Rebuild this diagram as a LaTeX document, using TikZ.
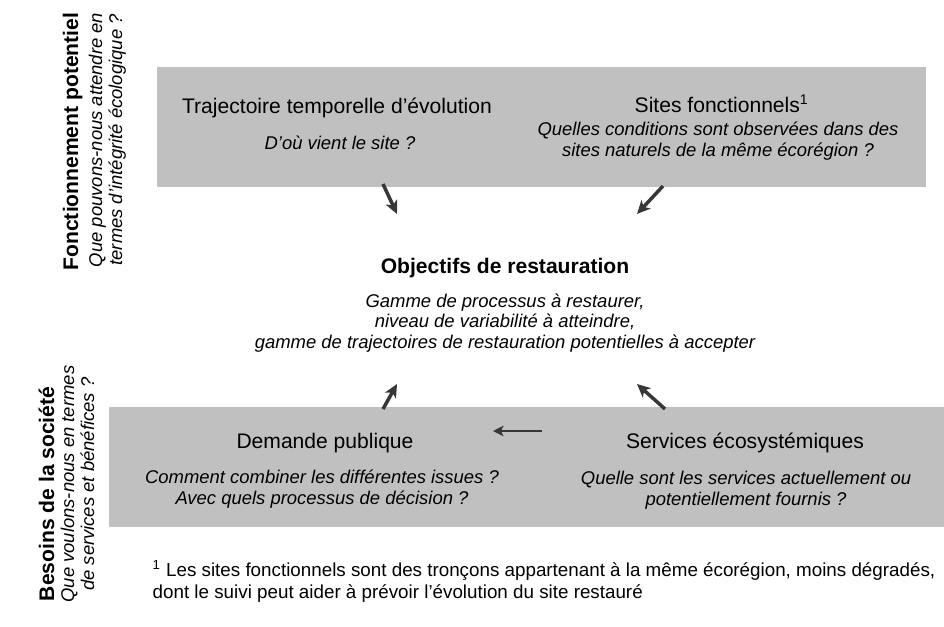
\documentclass[tikz,border=0pt]{standalone}
\usepackage{fontspec}
\setmainfont{Liberation Sans}
\usetikzlibrary{positioning}
\usetikzlibrary{arrows.meta}

\definecolor{boxgray}{RGB}{192,192,192}
\definecolor{arrowgray}{RGB}{55,55,55}

\begin{document}
\begin{tikzpicture}[x=0.02cm, y=-0.02cm, thick,
	box/.style={fill=boxgray, draw=none},
	title/.style={font=\fontsize{12}{14}\selectfont, inner sep=0pt, anchor=base},
	question/.style={font=\fontsize{10.5}{11.4}\selectfont\itshape, align=center, inner sep=0pt, anchor=base},
	side title/.style={font=\fontsize{12}{14}\selectfont\bfseries, inner sep=0pt, rotate=90, anchor=base east},
	side question/.style={font=\fontsize{10.5}{11.4}\selectfont\itshape, align=center, inner sep=0pt, rotate=90, anchor=north east},
	link/.style={draw=arrowgray, line width=2pt, -{Stealth[length=7.5pt, width=7pt, inset=2pt]}},
	thin link/.style={draw=arrowgray, line width=1.4pt, -{Stealth[length=6pt, width=6pt, inset=1.5pt]}}]
	\useasboundingbox (0,0) rectangle (944,626);
	% grey bands
	\fill[box] (157,67) rectangle (926,187);
	\fill[box] (109,407) rectangle (944,527);

	% potential functioning
	\node[side title] (fonct) at (78,12) {Fonctionnement potentiel};
	\node[side question] (fonctq) at (88,12) {Que pouvons-nous attendre en\\termes d’intégrité écologique ?};
	\node[title] (traj) at (337,113) {Trajectoire temporelle d’évolution};
	\node[question] (trajq) at (340,149) {D’où vient le site ?};
	\node[title, anchor=base west] (sites) at (634,112) {Sites fonctionnels\textsuperscript{1}};
	\node[question] (sitesq) at (718,156) {Quelles conditions sont observées dans des\\sites naturels de la même écorégion ?};

	% objectives
	\node[title, font=\fontsize{12}{14}\selectfont\bfseries] (obj) at (505,273) {Objectifs de restauration};
	\node[question] (objq) at (505,348) {Gamme de processus à restaurer,\\niveau de variabilité à atteindre,\\gamme de trajectoires de restauration potentielles à accepter};

	% society needs
	\node[side title] (soc) at (54,386) {Besoins de la société};
	\node[side question] (socq) at (60,365) {Que voulons-nous en termes\\de services et bénéfices ?};
	\node[title] (dem) at (325,448) {Demande publique};
	\node[question] (demq) at (322,504) {Comment combiner les différentes issues ?\\Avec quels processus de décision ?};
	\node[title] (serv) at (745,448) {Services écosystémiques};
	\node[question] (servq) at (746,505) {Quelle sont les services actuellement ou\\potentiellement fournis ?};

	% footnote
	\node[font=\fontsize{10.7}{12.5}\selectfont, align=left, inner sep=0pt, anchor=base west] (note) at (152,598)
		{\textsuperscript{1} Les sites fonctionnels sont des tronçons appartenant à la même écorégion, moins dégradés,\\dont le suivi peut aider à prévoir l’évolution du site restauré};

	% arrows
	\coordinate (trajout) at (383,184);
	\coordinate (objtl) at (397,214);
	\coordinate (sitesout) at (663,186);
	\coordinate (objtr) at (637,214);
	\coordinate (demout) at (383,409);
	\coordinate (objbl) at (397,384);
	\coordinate (servout) at (665,409);
	\coordinate (objbr) at (637,384);
	\coordinate (servin) at (542,431);
	\coordinate (demin) at (493,431);
	\draw[link] (trajout) -- (objtl);
	\draw[link] (sitesout) -- (objtr);
	\draw[link] (demout) -- (objbl);
	\draw[link] (servout) -- (objbr);
	\draw[thin link] (servin) -- (demin);
\end{tikzpicture}
\end{document}
